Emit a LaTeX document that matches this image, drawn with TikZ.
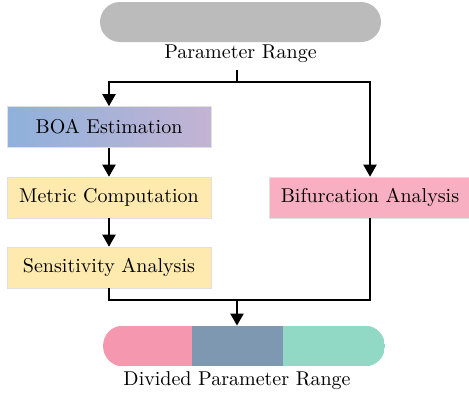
\documentclass[tikz,border=0pt]{standalone}
\usepackage{tikz}
\usetikzlibrary{arrows.meta}
\definecolor{pillgray}{HTML}{BBBBBB}
\definecolor{boaleft}{HTML}{8EB1DB}
\definecolor{boaright}{HTML}{C4B3D4}
\definecolor{stepyellow}{HTML}{FEEAAE}
\definecolor{steppink}{HTML}{F7AFC1}
\definecolor{segpink}{HTML}{F598AF}
\definecolor{segslate}{HTML}{7F98B1}
\definecolor{segteal}{HTML}{91D8C5}
\begin{document}
\begin{tikzpicture}[
			x=0.5pt, y=-0.5pt,
			stepbox/.style={rectangle, draw=black!12, line width=0.3pt, minimum width=102pt, minimum height=20.5pt, inner sep=0pt},
			pill/.style={rectangle, rounded corners=10pt, minimum width=140.5pt, minimum height=20pt, inner sep=0pt},
			flow/.style={line width=1pt},
			flowarrow/.style={line width=1pt, -{Triangle[length=6pt,width=6.5pt]}},
			]
			\useasboundingbox (0,0) rectangle (469,398);
			%Nodes
			\node[pill, fill=pillgray]      (range)      at 	(240.5,22)		{};
			\node      (rangelbl)      at 	(240.5,54)		{Parameter Range};
			\node[stepbox, left color=boaleft, right color=boaright]      (boa)      at 	(109,127)		{BOA Estimation};
			\node[stepbox, fill=stepyellow]      (metric)      at 	(109,197.5)		{Metric Computation};
			\node[stepbox, fill=stepyellow]      (sens)      at 	(109,267.5)		{Sensitivity Analysis};
			\node[stepbox, fill=steppink, minimum width=101pt]      (bif)      at 	(370,197.5)		{Bifurcation Analysis};
			\node[pill]      (divided)      at 	(244,346)		{};
			\node      (dividedlbl)      at 	(237,381)		{Divided Parameter Range};
			\coordinate (top) at (237,70);
			\coordinate (split) at (237,82);
			\coordinate (merge) at (237,300);
			
			%Segments
			\begin{scope}
			\clip[rounded corners=10pt] (divided.south west) rectangle (divided.north east);
			\fill[segpink] (divided.north west) rectangle (192,366);
			\fill[segslate] (192,326) rectangle (283,366);
			\fill[segteal] (283,326) rectangle (divided.south east);
			\end{scope}
			
			%Lines
			\draw[flow] (top) -- (split);
			\draw[flowarrow] (split) -| (boa.north);
			\draw[flowarrow] (split) -| (bif.north);
			\draw[flowarrow] (boa) -- (metric);
			\draw[flowarrow] (metric) -- (sens);
			\draw[flow] (sens.south) |- (merge) -| (bif.south);
			\draw[flowarrow] (merge) -- (merge |- divided.north);
		\end{tikzpicture}
\end{document}
